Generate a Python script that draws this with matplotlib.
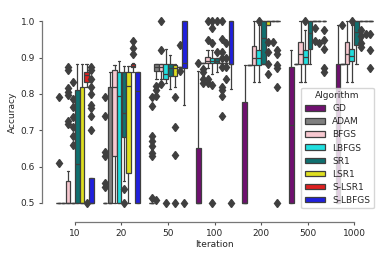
import matplotlib
matplotlib.use('Agg')
import matplotlib.pyplot as plt
from matplotlib.patches import Patch
import seaborn as sns

iterations = ['10', '20', '50', '100', '200', '500', '1000']
algorithms = ['GD', 'ADAM', 'BFGS', 'LBFGS', 'SR1', 'LSR1', 'S-LSR1', 'S-LBFGS']
palette = ['purple', 'gray', 'pink', 'cyan', 'teal', 'yellow', 'red', 'blue']

# box summaries per iteration: [whislo, q1, med, q3, whishi]
gd_box = [[0.5, 0.5, 0.5, 0.5, 0.5], [0.5, 0.5, 0.5, 0.5, 0.5], [0.5, 0.5, 0.5, 0.5, 0.5],
          [0.5, 0.5, 0.5, 0.65, 0.864], [0.5, 0.5, 0.5, 0.778, 0.88],
          [0.5, 0.5, 0.713, 0.873, 0.922], [0.5, 0.5, 0.7, 0.882, 0.99]]
gd_out = [[0.79, 0.61], [0.79, 0.74, 0.64, 0.63, 0.555, 0.545],
          [0.79, 0.767, 0.684, 0.67, 0.656, 0.638, 0.628, 0.513],
          [0.884], [], [], []]

adam_box = [[0.5, 0.5, 0.5, 0.5, 0.5], [0.5, 0.5, 0.5, 0.82, 0.86],
            [0.84, 0.864, 0.875, 0.882, 0.882], [0.884, 0.884, 0.884, 0.884, 0.884],
            [0.88, 0.88, 0.88, 0.88, 0.88], [0.882, 0.882, 0.882, 0.882, 0.882],
            [0.882, 0.882, 0.882, 0.882, 0.882]]
adam_out = [[], [], [0.822, 0.81, 0.794, 0.508], [0.868, 0.86, 0.84, 0.83], [], [], [0.99]]

bfgs_box = [[0.5, 0.5, 0.5, 0.559, 0.589], [0.5, 0.63, 0.82, 0.865, 0.88],
            [0.84, 0.864, 0.875, 0.882, 0.882], [0.87, 0.884, 0.89, 0.901, 0.921],
            [0.832, 0.88, 0.9, 0.931, 1.0], [0.833, 0.882, 0.91, 0.942, 1.0],
            [0.833, 0.882, 0.91, 0.942, 1.0]]
bfgs_out = [[0.875, 0.866, 0.815, 0.806, 0.797, 0.725, 0.716], [], [1.0, 0.92, 0.827],
            [1.0, 0.948, 0.84, 0.83], [], [], []]

lbfgs_box = [[0.5, 0.5, 0.5, 0.5, 0.5], [0.5, 0.5, 0.795, 0.86, 0.89],
             [0.83, 0.84, 0.855, 0.882, 0.924], [0.855, 0.884, 0.89, 0.9, 0.921],
             [0.832, 0.88, 0.9, 0.922, 0.99], [0.833, 0.882, 0.901, 0.92, 0.977],
             [0.833, 0.89, 0.905, 0.924, 0.99]]
lbfgs_out = [[0.832, 0.785, 0.763, 0.735, 0.708, 0.683, 0.66], [], [0.5],
             [1.0, 0.982, 0.94, 0.825, 0.5], [1.0], [1.0], [1.0]]

sr1_box = [[0.5, 0.5, 0.608, 0.811, 0.882], [0.56, 0.68, 0.748, 0.86, 0.878],
           [0.813, 0.85, 0.87, 0.882, 0.906], [0.86, 0.884, 0.89, 0.9, 0.9],
           [0.882, 0.882, 0.955, 1.0, 1.0], [0.882, 0.924, 0.967, 1.0, 1.0],
           [0.882, 0.934, 0.97, 1.0, 1.0]]
sr1_out = [[], [0.538, 0.5], [], [1.0, 0.915], [], [], []]

lsr1_box = [[0.5, 0.5, 0.5, 0.82, 0.882], [0.5, 0.582, 0.822, 0.86, 0.878],
            [0.82, 0.85, 0.87, 0.88, 0.882], [0.884, 0.884, 0.884, 0.884, 0.884],
            [0.99, 0.99, 1.0, 1.0, 1.0], [1.0, 1.0, 1.0, 1.0, 1.0], [1.0, 1.0, 1.0, 1.0, 1.0]]
lsr1_out = [[], [], [0.79, 0.71, 0.631, 0.5],
            [1.0, 0.951, 0.915, 0.9, 0.875, 0.82, 0.81, 0.794, 0.739],
            [0.944, 0.915, 0.882, 0.855], [0.98, 0.945], [0.975, 0.96, 0.94, 0.93]]

slsr1_box = [[0.82, 0.833, 0.852, 0.861, 0.882], [0.86, 0.873, 0.878, 0.882, 0.885],
             [0.875, 0.875, 0.875, 0.875, 0.875], [0.884, 0.884, 0.884, 0.884, 0.884],
             [1.0, 1.0, 1.0, 1.0, 1.0], [1.0, 1.0, 1.0, 1.0, 1.0], [1.0, 1.0, 1.0, 1.0, 1.0]]
slsr1_out = [[0.5], [0.945, 0.925, 0.91], [0.935, 0.864], [0.94, 0.9, 0.875, 0.84],
             [0.944], [0.94], [0.965]]

slbfgs_box = [[0.5, 0.5, 0.5, 0.568, 0.568], [0.5, 0.5, 0.808, 0.86, 0.86],
              [0.77, 0.87, 0.885, 1.0, 1.0], [0.813, 0.882, 0.882, 1.0, 1.0],
              [1.0, 1.0, 1.0, 1.0, 1.0], [1.0, 1.0, 1.0, 1.0, 1.0], [1.0, 1.0, 1.0, 1.0, 1.0]]
slbfgs_out = [[0.875, 0.865, 0.84, 0.82, 0.8, 0.77, 0.76, 0.74, 0.70], [], [0.5], [0.5],
              [0.92, 0.91, 0.88, 0.87, 0.82, 0.5], [0.975, 0.947, 0.924, 0.87, 0.86],
              [0.965, 0.92, 0.87]]

boxes = [gd_box, adam_box, bfgs_box, lbfgs_box, sr1_box, lsr1_box, slsr1_box, slbfgs_box]
outliers = [gd_out, adam_out, bfgs_out, lbfgs_out, sr1_out, lsr1_out, slsr1_out, slbfgs_out]

sns.set_style('ticks')
plt.rcParams['font.family'] = ['DejaVu Sans']
plt.rcParams['font.size'] = 6.5

line_gray = '#3f3f3f'
colors = [sns.desaturate(c, 0.75) for c in palette]

fig = plt.figure(figsize=(3.9, 2.6), dpi=100)
ax = fig.add_axes([0.1326, 0.1846, 0.835, 0.769])

n = len(algorithms)
w = 0.8 / n
for j, name in enumerate(algorithms):
    stats = []
    for i in range(len(iterations)):
        lo, q1, med, q3, hi = boxes[j][i]
        stats.append(dict(whislo=lo, q1=q1, med=med, q3=q3, whishi=hi,
                          fliers=outliers[j][i]))
    pos = [i - 0.4 + w / 2 + j * w for i in range(len(iterations))]
    ax.bxp(stats, positions=pos, widths=w * 0.98, patch_artist=True,
           manage_ticks=False,
           boxprops=dict(facecolor=colors[j], edgecolor=line_gray, linewidth=0.9),
           medianprops=dict(color=line_gray, linewidth=0.9),
           whiskerprops=dict(color=line_gray, linewidth=0.9),
           capprops=dict(color=line_gray, linewidth=0.9),
           flierprops=dict(marker='d', markerfacecolor=line_gray,
                           markeredgecolor=line_gray, markersize=4.3))

ax.set_xlim(-0.5, len(iterations) - 0.5)
ax.set_ylim(0.475, 1.025)
ax.set_xticks(range(len(iterations)))
ax.set_xticklabels(iterations)
ax.set_yticks([0.5, 0.6, 0.7, 0.8, 0.9, 1.0])
ax.set_yticklabels(['0.5', '0.6', '0.7', '0.8', '0.9', '1.0'])
ax.tick_params(length=2.5, width=0.8, pad=2.5, labelsize=6.5, color='#555555')
ax.set_xlabel('Iteration', fontsize=6.5, labelpad=2)
ax.set_ylabel('Accuracy', fontsize=6.5, labelpad=3)

for side in ['top', 'right']:
    ax.spines[side].set_visible(False)
for side in ['left', 'bottom']:
    ax.spines[side].set_position(('outward', 7))
    ax.spines[side].set_color('#777777')
    ax.spines[side].set_linewidth(0.9)
ax.spines['left'].set_bounds(0.5, 1.0)
ax.spines['bottom'].set_bounds(0, len(iterations) - 1)

handles = [Patch(facecolor=colors[j], edgecolor=line_gray, linewidth=0.9, label=a)
           for j, a in enumerate(algorithms)]
ax.legend(handles=handles, title='Algorithm', loc='lower right', fontsize=6.5,
          title_fontsize=6.5, labelspacing=0.45, handlelength=2.2, handleheight=0.6,
          borderaxespad=0.4)

fig.savefig('out.png', dpi=100)
